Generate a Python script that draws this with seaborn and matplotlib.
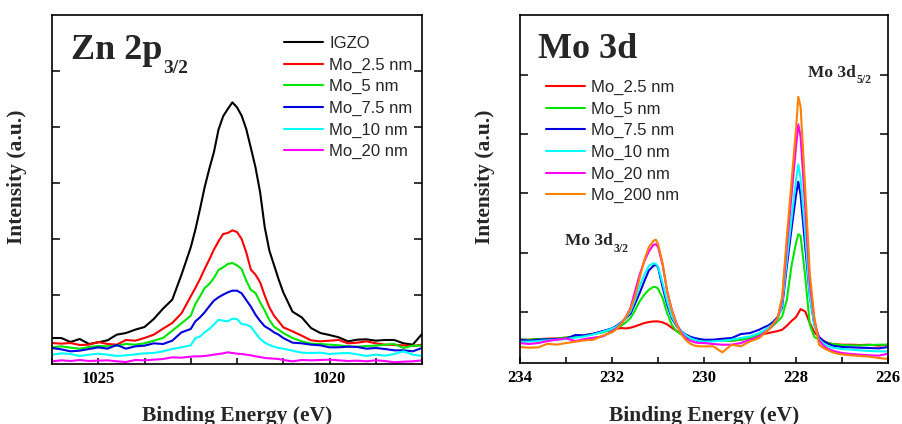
import numpy as np
import pandas as pd
import matplotlib
matplotlib.use("Agg")
import matplotlib.pyplot as plt
import seaborn as sns
from matplotlib.ticker import MultipleLocator, FixedLocator

# ---------------- Zn 2p3/2 data (binding energy in eV, intensity in a.u.) ----------------
zn_energy = [1026.0, 1025.8, 1025.6, 1025.4, 1025.2, 1025.0, 1024.8, 1024.6, 1024.4, 1024.2,
             1024.0, 1023.8, 1023.6, 1023.4, 1023.2, 1023.0,
             1022.9, 1022.8, 1022.7, 1022.6, 1022.5, 1022.4, 1022.3, 1022.2, 1022.1, 1022.0,
             1021.9, 1021.8, 1021.7, 1021.6, 1021.5, 1021.4, 1021.3, 1021.2, 1021.1,
             1021.0, 1020.8, 1020.6, 1020.4, 1020.2, 1020.0, 1019.8, 1019.6, 1019.4, 1019.2,
             1019.0, 1018.8, 1018.6, 1018.4, 1018.2, 1018.0]
zn_igzo = [78, 78, 66, 75, 60, 65, 71, 88, 93, 103, 111, 135, 166, 193, 268, 350,
           403, 465, 530, 585, 635, 703, 743, 765, 785, 770, 745, 705, 648, 590, 515, 410, 340, 297, 254,
           215, 157, 140, 108, 93, 87, 80, 68, 73, 74, 70, 72, 72, 62, 58, 90]
zn_mo25 = [63, 61, 63, 57, 58, 66, 60, 58, 72, 70, 78, 88, 106, 123, 152, 203,
           228, 255, 285, 313, 343, 368, 390, 393, 401, 396, 375, 335, 283, 268, 245, 205, 170, 145, 128,
           110, 98, 85, 71, 68, 70, 72, 62, 64, 68, 62, 58, 57, 56, 54, 58]
zn_mo5 = [50, 53, 49, 46, 51, 54, 53, 55, 60, 58, 62, 70, 78, 100, 122, 145,
          180, 203, 228, 240, 258, 282, 290, 300, 303, 296, 285, 250, 222, 213, 185, 160, 132, 112, 103,
          93, 78, 68, 61, 60, 58, 56, 53, 52, 54, 55, 58, 60, 48, 55, 55]
zn_mo75 = [48, 44, 38, 40, 45, 50, 46, 57, 46, 53, 55, 62, 60, 70, 95, 105,
           128, 140, 155, 173, 190, 200, 208, 215, 220, 220, 212, 192, 172, 148, 129, 113, 105, 95, 88,
           78, 64, 62, 58, 56, 50, 50, 52, 51, 46, 48, 45, 41, 41, 38, 48]
zn_mo10 = [28, 32, 30, 24, 28, 31, 28, 24, 26, 29, 32, 33, 38, 45, 50, 56,
           78, 82, 95, 105, 118, 133, 130, 128, 136, 135, 120, 118, 112, 93, 75, 64, 57, 52, 48,
           46, 40, 34, 33, 34, 30, 32, 33, 29, 24, 28, 25, 30, 38, 28, 24]
zn_mo20 = [8, 11, 9, 12, 9, 10, 11, 8, 6, 12, 11, 13, 15, 20, 19, 22,
           23, 23, 24, 26, 28, 30, 32, 35, 33, 31, 30, 28, 26, 23, 21, 18, 17, 16, 15,
           12, 8, 12, 11, 12, 13, 11, 9, 10, 8, 11, 9, 5, 7, 8, 11]
zn_labels = ["IGZO", "Mo_2.5 nm", "Mo_5 nm", "Mo_7.5 nm", "Mo_10 nm", "Mo_20 nm"]
zn_series = [zn_igzo, zn_mo25, zn_mo5, zn_mo75, zn_mo10, zn_mo20]

# ---------------- Mo 3d data ----------------
mo_energy = [234.0, 233.8, 233.6, 233.4, 233.2, 233.0, 232.8, 232.6, 232.4, 232.2,
             232.0, 231.9, 231.8, 231.7, 231.6, 231.5, 231.4, 231.3, 231.2, 231.1, 231.05, 231.0,
             230.9, 230.8, 230.7, 230.6, 230.5, 230.4, 230.3, 230.2, 230.1, 230.0,
             229.8, 229.6, 229.4, 229.2, 229.0, 228.8,
             228.7, 228.6, 228.5, 228.4, 228.3, 228.2, 228.1, 228.0, 227.95, 227.9,
             227.8, 227.7, 227.6, 227.5, 227.4, 227.3, 227.2, 227.1, 227.0,
             226.8, 226.6, 226.4, 226.2, 226.0]
mo_25 = [70, 70, 72, 73, 74, 76, 80, 84, 88, 95,
         100, 103, 105, 104, 106, 110, 115, 120, 123, 125, 125, 125,
         122, 116, 106, 97, 89, 82, 75, 69, 66, 65,
         67, 70, 67, 70, 75, 83,
         87, 90, 93, 96, 100, 112, 126, 138, 150, 162,
         155, 120, 92, 78, 66, 60, 57, 56, 55,
         55, 54, 55, 52, 55]
mo_5 = [70, 70, 72, 71, 73, 77, 79, 83, 87, 92,
        100, 105, 112, 122, 135, 158, 185, 205, 220, 229, 228, 224,
        195, 150, 115, 96, 86, 79, 74, 70, 67, 65,
        67, 67, 67, 70, 75, 85,
        90, 100, 112, 125, 140, 190, 290, 360, 387, 382,
        260, 115, 78, 70, 64, 60, 57, 55, 54,
        53, 53, 54, 55, 55]
mo_75 = [70, 67, 70, 71, 72, 73, 84, 83, 88, 96,
         104, 112, 122, 134, 148, 178, 210, 245, 278, 292, 295, 288,
         228, 175, 135, 112, 96, 86, 79, 75, 72, 70,
         70, 73, 75, 87, 90, 100,
         107, 113, 123, 138, 168, 290, 400, 505, 545, 505,
         350, 200, 115, 78, 66, 58, 52, 50, 48,
         47, 46, 45, 44, 48]
mo_10 = [64, 64, 66, 68, 70, 72, 76, 80, 86, 94,
         103, 110, 120, 135, 155, 190, 230, 265, 292, 300, 298, 290,
         240, 185, 140, 115, 96, 84, 75, 70, 66, 64,
         65, 67, 70, 75, 80, 90,
         97, 107, 117, 132, 175, 310, 430, 550, 597, 555,
         390, 200, 115, 72, 58, 50, 46, 44, 42,
         40, 38, 36, 35, 35]
mo_20 = [60, 57, 60, 66, 70, 74, 66, 72, 76, 80,
         95, 105, 118, 138, 165, 215, 265, 305, 335, 355, 357, 350,
         295, 215, 160, 120, 92, 76, 67, 62, 60, 60,
         57, 55, 55, 60, 70, 80,
         90, 100, 115, 135, 190, 350, 500, 650, 717, 680,
         470, 240, 130, 68, 52, 42, 37, 33, 30,
         27, 25, 23, 22, 28]
mo_200 = [48, 46, 47, 58, 55, 60, 64, 68, 70, 82,
          92, 102, 118, 138, 162, 200, 255, 308, 348, 367, 371, 358,
          300, 215, 158, 118, 88, 70, 58, 52, 50, 50,
          50, 32, 55, 50, 65, 75,
          87, 100, 117, 135, 200, 378, 540, 703, 800, 770,
          525, 270, 135, 55, 45, 38, 32, 28, 26,
          23, 21, 19, 15, 12]
mo_labels = ["Mo_2.5 nm", "Mo_5 nm", "Mo_7.5 nm", "Mo_10 nm", "Mo_20 nm", "Mo_200 nm"]
mo_series = [mo_25, mo_5, mo_75, mo_10, mo_20, mo_200]

colors = {"IGZO": "#000000", "Mo_2.5 nm": "#ff0000", "Mo_5 nm": "#00e600",
          "Mo_7.5 nm": "#0000e0", "Mo_10 nm": "#00ffff", "Mo_20 nm": "#ff00ff",
          "Mo_200 nm": "#ff8000"}


def long_df(energy, labels, series):
    rows = []
    for lab, vals in zip(labels, series):
        for e, v in zip(energy, vals):
            rows.append({"energy": e, "intensity": v, "sample": lab})
    return pd.DataFrame(rows)


df_zn = long_df(zn_energy, zn_labels, zn_series)
df_mo = long_df(mo_energy, mo_labels, mo_series)

sns.set_style("ticks")
plt.rcParams["font.family"] = ["Liberation Serif", "DejaVu Serif"]
plt.rcParams["axes.edgecolor"] = "black"
plt.rcParams["axes.linewidth"] = 1.2
plt.rcParams["xtick.color"] = "black"
plt.rcParams["ytick.color"] = "black"

W, H = 902, 424
fig = plt.figure(figsize=(W / 100, H / 100), dpi=100)
axL = fig.add_axes([52 / W, 1 - 364 / H, 370 / W, 349 / H])
axR = fig.add_axes([520 / W, 1 - 363 / H, 368 / W, 348 / H])

sns.lineplot(data=df_zn, x="energy", y="intensity", hue="sample", hue_order=zn_labels,
             palette=colors, estimator=None, sort=True, linewidth=1.5, ax=axL)
sns.lineplot(data=df_mo, x="energy", y="intensity", hue="sample", hue_order=mo_labels,
             palette=colors, estimator=None, sort=True, linewidth=1.5, ax=axR)

# axes ranges and ticks
axL.set_xlim(1026, 1018)
axL.set_ylim(0, 1047)
axL.set_xticks([1025, 1020])
axL.set_xticklabels(["1025", "1020"], fontweight="bold", fontsize=12)
axL.xaxis.set_minor_locator(MultipleLocator(1))
axL.yaxis.set_major_locator(FixedLocator([208, 376, 544, 710, 878]))

axR.set_xlim(234, 226)
axR.set_ylim(0, 1046)
axR.set_xticks([234, 232, 230, 228, 226])
axR.set_xticklabels(["234", "232", "230", "228", "226"], fontweight="bold", fontsize=12)
axR.xaxis.set_minor_locator(MultipleLocator(1))
axR.yaxis.set_major_locator(FixedLocator([152, 331, 510, 689, 867]))

for ax in (axL, axR):
    ax.tick_params(axis="x", which="both", direction="in", length=4, width=1.1, pad=5,
                   top=False, bottom=True)
    ax.tick_params(axis="y", which="both", direction="in", length=6, width=1.1,
                   left=True, right=True, labelleft=False)
    for s in ax.spines.values():
        s.set_visible(True)
        s.set_color("black")
        s.set_linewidth(1.2)
    ax.set_xlabel("Binding Energy (eV)", fontsize=15.5, fontweight="bold", va="baseline")
    ax.set_ylabel("Intensity (a.u.)", fontsize=15.5, fontweight="bold")

axL.xaxis.set_label_coords(0.5, (364 - 420.5) / 349)
axR.xaxis.set_label_coords(0.5, (363 - 420.5) / 348)
axL.yaxis.set_label_coords((27 - 52) / 370, (364 - 177) / 349)
axR.yaxis.set_label_coords((495 - 520) / 368, (363 - 177) / 348)

leg_kw = dict(title=None, frameon=False, borderpad=0, borderaxespad=0,
              handlelength=2.35, handletextpad=0.36, labelspacing=0.39,
              prop={"family": "Liberation Sans", "size": 12})
sns.move_legend(axL, "upper left", bbox_to_anchor=((284 - 52) / 370, (364 - 36) / 349), **leg_kw)
sns.move_legend(axR, "upper left", bbox_to_anchor=((546 - 520) / 368, (363 - 80) / 348), **leg_kw)
for ax in (axL, axR):
    for h in ax.get_legend().legend_handles:
        h.set_linewidth(1.5)

renderer = fig.canvas.get_renderer()


def label_with_sub(x_px, y_px, main, sub, size, subsize, drop, gap=0.5):
    t = fig.text(x_px / W, 1 - y_px / H, main, fontsize=size, fontweight="bold",
                 family="Liberation Serif", ha="left", va="baseline")
    bb = t.get_window_extent(renderer)
    if sub:
        fig.text((bb.x1 + gap) / W, 1 - (y_px + drop) / H, sub, fontsize=subsize,
                 fontweight="bold", family="Liberation Serif", ha="left", va="baseline")


label_with_sub(71, 59, "Zn 2p", "3/2", 26, 14, 14)
label_with_sub(538, 58, "Mo 3d", None, 26, 10, 0)
label_with_sub(808, 77, "Mo 3d", "5/2", 12.5, 8.5, 6)
label_with_sub(565, 245, "Mo 3d", "3/2", 12.5, 8.5, 7)

fig.savefig("out.png", dpi=100)
